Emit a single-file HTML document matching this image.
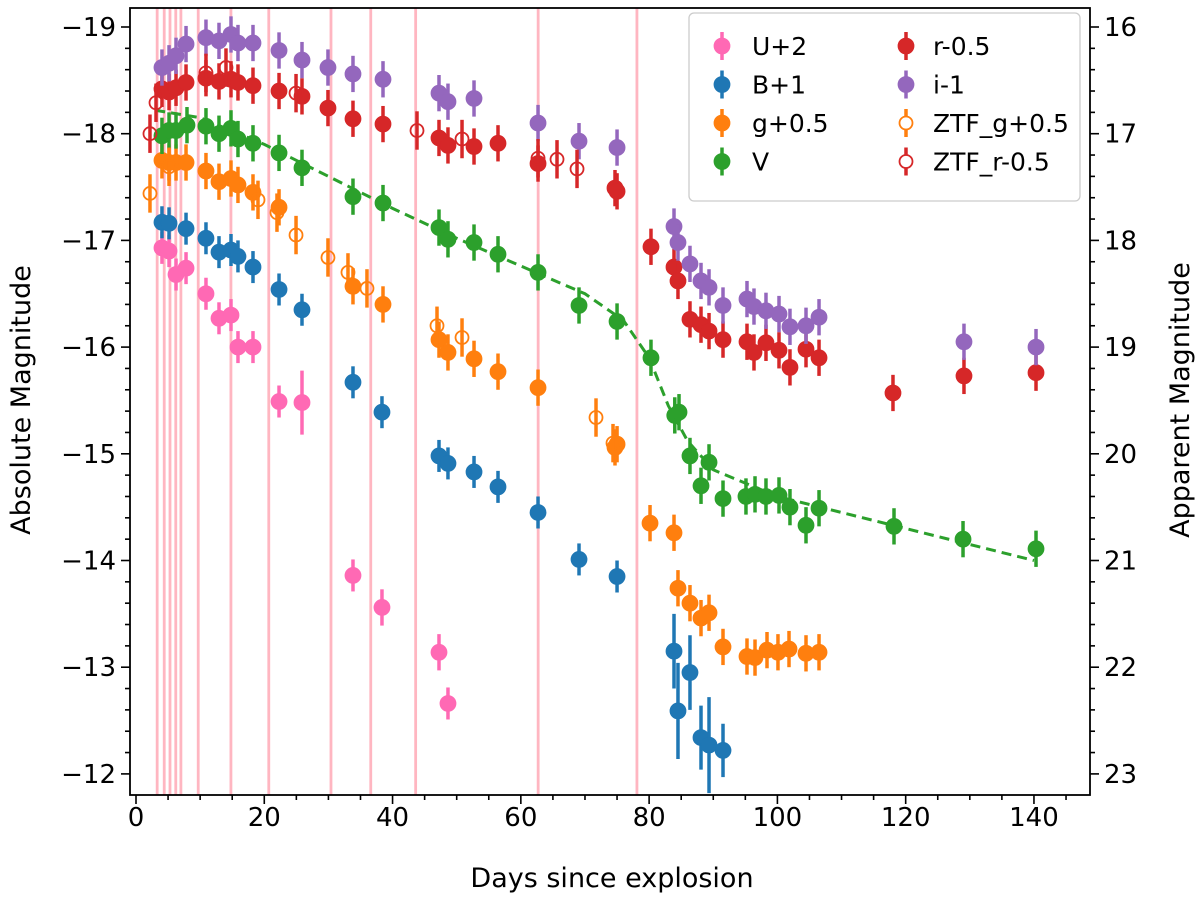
<!DOCTYPE html>
<html><head><meta charset="utf-8">
<style>
body{margin:0;background:#fff;}
svg{display:block;font-family:"DejaVu Sans","Liberation Sans",sans-serif;}
</style></head>
<body>
<svg id="chart" width="1200" height="900"></svg>
<script>
const vlineDays=[3.3,4.4,5.3,6.2,7.0,9.7,14.8,20.7,30.4,36.6,43.6,62.7,78.1];
const xTicks=[0,20,40,60,80,100,120,140];
const yTicks=[-19,-18,-17,-16,-15,-14,-13,-12];
const yTicksRight=[16,17,18,19,20,21,22,23];
const vDays=[4.05,5.15,6.24,7.95,10.91,12.94,14.81,15.90,18.24,22.30,25.88,33.83,38.51,47.24,48.64,52.70,56.44,62.68,69.07,75.0,80.29,84.0,84.66,86.37,88.09,89.34,91.52,95.10,96.51,98.22,100.25,101.96,104.46,106.49,118.18,128.94,140.32];
const vMag=[-17.98,-18.03,-18.03,-18.08,-18.07,-18.00,-18.05,-17.95,-17.91,-17.82,-17.68,-17.41,-17.35,-17.12,-17.01,-16.98,-16.87,-16.70,-16.39,-16.24,-15.90,-15.36,-15.39,-14.98,-14.70,-14.92,-14.58,-14.60,-14.62,-14.60,-14.61,-14.50,-14.33,-14.49,-14.32,-14.20,-14.11];
const iDays=[4.05,5.15,6.24,7.80,10.91,12.94,14.81,15.90,18.24,22.30,25.88,29.93,33.83,38.51,47.24,48.64,52.70,62.68,69.07,75.0,83.88,84.50,86.37,88.09,89.34,91.52,95.26,96.35,98.22,100.25,101.96,104.46,106.49,129.09,140.32];
const iMag=[-18.62,-18.66,-18.73,-18.84,-18.90,-18.87,-18.93,-18.85,-18.85,-18.78,-18.69,-18.62,-18.56,-18.51,-18.38,-18.30,-18.33,-18.10,-17.93,-17.87,-17.13,-16.98,-16.78,-16.62,-16.56,-16.39,-16.45,-16.38,-16.34,-16.31,-16.19,-16.20,-16.28,-16.05,-16.00];
const rDays=[4.05,5.15,6.24,7.80,10.91,12.94,14.81,15.90,18.24,22.30,25.88,29.93,33.83,38.51,47.24,48.64,52.70,56.44,62.68,74.68,75.0,80.29,83.88,84.50,86.37,88.09,89.34,91.52,95.26,96.35,98.22,100.25,101.96,104.46,106.49,118.02,129.09,140.32];
const rMag=[-18.42,-18.39,-18.43,-18.48,-18.52,-18.49,-18.51,-18.48,-18.45,-18.40,-18.35,-18.24,-18.14,-18.09,-17.96,-17.89,-17.88,-17.91,-17.72,-17.49,-17.46,-16.94,-16.75,-16.62,-16.26,-16.21,-16.15,-16.07,-16.05,-15.95,-16.04,-15.97,-15.81,-15.98,-15.90,-15.57,-15.73,-15.76];
const ztfrDays=[2.18,3.12,10.91,14.03,24.95,43.81,50.83,62.68,65.64,68.76];
const ztfrMag=[-18.00,-18.29,-18.57,-18.62,-18.38,-18.03,-17.95,-17.77,-17.76,-17.67];
const gDays=[4.05,5.15,6.24,7.80,10.91,12.94,14.81,15.90,18.24,22.30,33.83,38.51,47.24,48.64,52.70,56.44,62.68,74.68,75.0,80.14,83.88,84.50,86.37,88.09,89.34,91.52,95.26,96.51,98.38,100.09,101.81,104.46,106.49];
const gMag=[-17.75,-17.73,-17.73,-17.73,-17.65,-17.55,-17.58,-17.52,-17.45,-17.31,-16.57,-16.40,-16.07,-15.95,-15.89,-15.77,-15.62,-15.06,-15.09,-14.35,-14.26,-13.74,-13.60,-13.46,-13.51,-13.19,-13.10,-13.09,-13.16,-13.14,-13.17,-13.13,-13.14];
const ztfgDays=[2.18,5.15,19.02,21.98,24.95,29.93,33.05,36.01,46.93,50.83,71.72,74.37];
const ztfgMag=[-17.44,-17.69,-17.38,-17.26,-17.05,-16.84,-16.70,-16.55,-16.20,-16.09,-15.34,-15.10];
const bDays=[4.05,5.15,7.80,10.91,12.94,14.81,15.90,18.24,22.30,25.88,33.83,38.35,47.24,48.64,52.70,56.44,62.68,69.07,75.0,83.88,84.50,86.37,88.09,89.34,91.52];
const bMag=[-17.17,-17.16,-17.11,-17.02,-16.89,-16.91,-16.85,-16.75,-16.54,-16.35,-15.67,-15.39,-14.98,-14.91,-14.83,-14.69,-14.45,-14.01,-13.85,-13.15,-12.59,-12.95,-12.34,-12.27,-12.22];
const bErr=[0.15,0.15,0.15,0.15,0.15,0.15,0.15,0.15,0.15,0.15,0.15,0.15,0.15,0.15,0.15,0.15,0.15,0.15,0.15,0.35,0.45,0.35,0.3,0.45,0.25];
const uDays=[4.05,5.15,6.24,7.80,10.91,12.94,14.81,15.90,18.24,22.30,25.88,33.83,38.35,47.24,48.64];
const uMag=[-16.93,-16.90,-16.68,-16.74,-16.50,-16.27,-16.30,-16.00,-16.00,-15.49,-15.48,-13.86,-13.56,-13.14,-12.66];
const uErr=[0.15,0.15,0.15,0.15,0.15,0.15,0.15,0.15,0.15,0.15,0.3,0.15,0.17,0.17,0.15];
const fitDays=[3,10,20,30,40,50,60,70,76,80,83,86,90,100,120,140];
const fitMag=[-18.22,-18.15,-17.9,-17.6,-17.3,-17.02,-16.76,-16.5,-16.25,-15.9,-15.45,-15.12,-14.85,-14.6,-14.3,-14.0];

const NS='http://www.w3.org/2000/svg';
const svg=document.getElementById('chart');
const L=130,R=1090,T=8,B=795;
const X=d=>136+d*6.414;
const Y=m=>27+(m+19)*106.7;
function el(tag,attrs,parent){const e=document.createElementNS(NS,tag);for(const k in attrs)e.setAttribute(k,attrs[k]);(parent||svg).appendChild(e);return e;}

const vg=el('g',{});


vlineDays.forEach(d=>{const l=el('line',{x1:X(d),x2:X(d),y1:T,y2:B,stroke:'#ffb6c1','stroke-width':2.8},vg);

});

const fit=el('polyline',{points:fitDays.map((d,i)=>X(d)+','+Y(fitMag[i])).join(' '),fill:'none',stroke:'#2ca02c','stroke-width':3,'stroke-dasharray':'10,6'});



function series(name,days,mags,color,open,errs,def){
  const g=el('g',{});
  
  
  days.forEach((d,i)=>{
    const e=errs?errs[i]:def;const x=X(d),y=Y(mags[i]);
    const bar=el('line',{x1:x,x2:x,y1:Y(mags[i]-e),y2:Y(mags[i]+e),stroke:color,'stroke-width':3.5},g);
    
    
    const c=el('circle',{cx:x,cy:y,r:open?6.5:8,fill:open?'none':color,stroke:color,'stroke-width':open?1.8:0.8},g);
    
    
  });
}
series('u-band',uDays,uMag,'#ff69b4',false,uErr,0.15);
series('b-band',bDays,bMag,'#1f77b4',false,bErr,0.15);
series('g-band',gDays,gMag,'#ff7f0e',false,null,0.17);
series('v-band',vDays,vMag,'#2ca02c',false,null,0.17);
series('r-band',rDays,rMag,'#d62728',false,null,0.17);
series('i-band',iDays,iMag,'#9467bd',false,null,0.17);
series('ztf-g',ztfgDays,ztfgMag,'#ff7f0e',true,null,0.18);
series('ztf-r',ztfrDays,ztfrMag,'#d62728',true,null,0.18);

const frame=el('rect',{x:L,y:T,width:R-L,height:B-T,fill:'none',stroke:'#000','stroke-width':1.8});



const ax=el('g',{});


for(let d=0;d<=145;d+=5){const x=X(d);const maj=d%20===0;el('line',{x1:x,x2:x,y1:B,y2:B+(maj?9:5),stroke:'#000','stroke-width':1.6},ax);}
xTicks.forEach(d=>{const t=el('text',{x:X(d),y:B+31,'font-size':26,'text-anchor':'middle'},ax);t.textContent=d;

});
for(let k=0;k<=36;k++){const m=-19.2+k*0.2;const y=Y(m);if(y<T-0.5||y>B+0.5)continue;const maj=Math.abs(m-Math.round(m))<0.01;
el('line',{x1:L,x2:L-(maj?9:5),y1:y,y2:y,stroke:'#000','stroke-width':1.6},ax);
el('line',{x1:R,x2:R+(maj?9:5),y1:y,y2:y,stroke:'#000','stroke-width':1.6},ax);}
yTicks.forEach(m=>{const t=el('text',{x:L-14,y:Y(m)+9,'font-size':26,'text-anchor':'end'},ax);t.textContent='\u2212'+Math.abs(m);

});
yTicksRight.forEach(m=>{const t=el('text',{x:R+14,y:Y(m-35)+9,'font-size':26,'text-anchor':'start'},ax);t.textContent=m;

});
const xl=el('text',{x:612,y:887,'font-size':27,'text-anchor':'middle'});xl.textContent='Days since explosion';


const yl=el('text',{x:0,y:0,'font-size':27,'text-anchor':'middle',transform:'translate(30,400) rotate(-90)'});yl.textContent='Absolute Magnitude';


const yr=el('text',{x:0,y:0,'font-size':27,'text-anchor':'middle',transform:'translate(1189,400) rotate(-90)'});yr.textContent='Apparent Magnitude';



const lg=el('g',{});


el('rect',{x:689,y:13,width:391,height:188,rx:5,fill:'#fff','fill-opacity':0.85,stroke:'#ccc','stroke-width':1.3},lg);
const legNames=['U+2','B+1','g+0.5','V','r-0.5','i-1','ZTF_g+0.5','ZTF_r-0.5'];
const legColors=['#ff69b4','#1f77b4','#ff7f0e','#2ca02c','#d62728','#9467bd','#ff7f0e','#d62728'];
const legOpen=[false,false,false,false,false,false,true,true];
legNames.forEach((n,i)=>{const col=Math.floor(i/4),row=i%4;const mx=col?906:722,ty=46+row*38.5;
const e=el('g',{},lg);


el('line',{x1:mx,x2:mx,y1:ty-14,y2:ty+14,stroke:legColors[i],'stroke-width':3.5},e);
el('circle',{cx:mx,cy:ty,r:legOpen[i]?6.5:8,fill:legOpen[i]?'#fff':legColors[i],stroke:legColors[i],'stroke-width':legOpen[i]?1.8:0.8},e);
const t=el('text',{x:col?933:752,y:ty+9,'font-size':25},e);t.textContent=n;});
</script>
</body></html>
